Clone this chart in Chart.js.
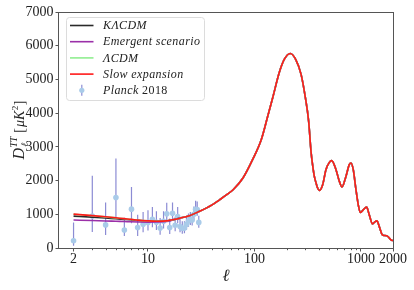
<!DOCTYPE html>
<html><head><meta charset="utf-8">
<script src="https://cdn.jsdelivr.net/npm/chart.js@4.4.0/dist/chart.umd.min.js"></script>
<style>html,body{margin:0;padding:0;background:#fff}canvas{display:block}</style>
</head><body>
<canvas id="c" width="414" height="290"></canvas>
<script>
// ---- data ----
const lowEll = [2, 3, 4, 5, 6, 7, 8, 10, 12, 15];
const kLCDMLow = [945, 915, 890, 866, 850, 836, 820, 800, 792, 803];
const emergentLow = [830, 815, 803, 793, 785, 778, 773, 768, 770, 785];
const lcdmLow = [1000, 957, 922, 893, 868, 849, 827, 804, 795, 805];
const slowLow = [1005, 960, 925, 895, 870, 850, 828, 805, 795, 805];

const highEll = [18, 20, 24, 30, 40, 47, 55, 63, 78, 96, 116, 133, 149, 171, 191, 217, 245, 274, 301, 323, 340, 352, 365, 379, 392, 406, 437, 469, 505, 531, 583, 627, 663, 723, 777, 806, 847, 898, 944, 986, 1051, 1130, 1197, 1286, 1350, 1413, 1486, 1592, 1650, 1740, 1820, 1915, 2000];
const highD = [850, 885, 950, 1080, 1280, 1430, 1580, 1728, 2076, 2620, 3217, 3900, 4480, 5204, 5600, 5770, 5580, 5150, 4450, 3750, 2850, 2450, 2124, 1927, 1778, 1707, 1877, 2323, 2541, 2592, 2323, 1976, 1808, 2124, 2472, 2523, 2323, 1728, 1281, 1052, 1132, 1212, 983, 715, 775, 804, 635, 387, 372, 366, 320, 238, 220];

const planckEll = [2, 3, 4, 5, 6, 7, 8, 9, 10, 11, 12, 13, 14, 15, 16, 17, 18, 19, 20, 21, 22, 23, 24, 25, 26, 27, 28, 29, 30];
const planckD = [217, 950, 685, 1499, 536, 1152, 606, 705, 760, 854, 762, 590, 790, 1013, 606, 1032, 675, 933, 635, 586, 590, 705, 800, 850, 830, 1000, 1150, 1140, 760];
const planckUp = [537, 1195, 665, 1152, 358, 655, 380, 360, 360, 364, 330, 300, 300, 330, 270, 320, 250, 280, 230, 210, 200, 210, 220, 220, 210, 230, 250, 240, 200];
const planckDown = [147, 473, 298, 630, 179, 417, 250, 240, 240, 240, 230, 200, 210, 230, 190, 220, 180, 200, 170, 160, 150, 160, 170, 170, 160, 180, 190, 180, 160];

const xTickValues = [2, 10, 100, 1000, 2000];
const xTickLabels = ['2', '10', '100', '1000', '2000'];
const xMinorTicks = [3, 4, 5, 6, 7, 8, 9, 20, 30, 40, 50, 60, 70, 80, 90, 200, 300, 400, 500, 600, 700, 800, 900];
const legendLabels = ['KΛCDM', 'Emergent scenario', 'ΛCDM', 'Slow expansion'];

// ---- build datasets ----
function series(low) {
  return lowEll.map((x, i) => ({x, y: low[i]})).concat(highEll.map((x, i) => ({x, y: highD[i]})));
}
const lineColors = ['#2a2a2a', '#9b30a8', '#90ee90', '#ff1a1a'];
const lows = [kLCDMLow, emergentLow, lcdmLow, slowLow];
const datasets = lows.map((low, i) => ({
  label: legendLabels[i], data: series(low), borderColor: lineColors[i], borderWidth: 1.6,
  pointRadius: 0, fill: false, cubicInterpolationMode: 'monotone', order: 4 - i
}));
datasets.push({
  type: 'scatter', label: 'Planck 2018', data: planckEll.map((x, i) => ({x, y: planckD[i]})),
  pointRadius: 2.8, pointBackgroundColor: '#a9cbe9', pointBorderWidth: 0, borderColor: '#a9cbe9',
  showLine: false, order: 10
});

const FRAME = '#555';
const SERIF = '"Liberation Serif", "DejaVu Serif", serif';

const errorBars = {
  id: 'errorBars',
  beforeDatasetsDraw(chart) {
    const {ctx, scales: {x, y}} = chart;
    ctx.save();
    ctx.strokeStyle = 'rgba(120,120,205,0.85)';
    ctx.lineWidth = 1.2;
    ctx.beginPath();
    planckEll.forEach((l, i) => {
      const px = x.getPixelForValue(l);
      ctx.moveTo(px, y.getPixelForValue(planckD[i] + planckUp[i]));
      ctx.lineTo(px, y.getPixelForValue(Math.max(0, planckD[i] - planckDown[i])));
    });
    ctx.stroke();
    ctx.restore();
  }
};

const decor = {
  id: 'decor',
  afterDraw(chart) {
    const {ctx, chartArea: a, scales: {x}} = chart;
    ctx.save();
    // frame
    ctx.strokeStyle = FRAME; ctx.lineWidth = 1;
    ctx.strokeRect(Math.round(a.left) - 0.5, Math.round(a.top) + 0.5, Math.round(a.right - a.left) + 1, Math.round(a.bottom - a.top));
    // minor ticks
    ctx.beginPath();
    xMinorTicks.forEach(v => {
      const px = Math.round(x.getPixelForValue(v)) + 0.5;
      ctx.moveTo(px, a.bottom); ctx.lineTo(px, a.bottom + 2.2);
    });
    ctx.stroke();

    // x title
    ctx.fillStyle = '#222';
    ctx.font = 'italic 17px ' + SERIF;
    ctx.textAlign = 'center'; ctx.textBaseline = 'alphabetic';
    ctx.fillText('ℓ', (a.left + a.right) / 2, 281);

    // y title
    ctx.save();
    ctx.translate(24, (a.top + a.bottom) / 2);
    ctx.rotate(-Math.PI / 2);
    ctx.textAlign = 'left';
    const parts = [
      {t: 'D', f: 'italic 16px ' + SERIF, dy: 0, gap: 0.5},
      {t: 'TT', f: 'italic 9.5px ' + SERIF, dy: -7.5, stack: 'ℓ', gap: 1},
      {t: '[', f: '14px ' + SERIF, dy: 0, gap: 1},
      {t: 'μK', f: 'italic 14px ' + SERIF, dy: 0, gap: 0.5},
      {t: '2', f: '9px ' + SERIF, dy: -6.5, gap: 0.5},
      {t: ']', f: '14px ' + SERIF, dy: 0, gap: 0}
    ];
    let total = 0;
    parts.forEach(p => { ctx.font = p.f; p.w = ctx.measureText(p.t).width + p.gap; total += p.w; });
    total += 3;
    let cx = -total / 2;
    parts.forEach((p, i) => {
      ctx.font = p.f;
      ctx.fillText(p.t, cx, p.dy);
      if (p.stack) { ctx.font = 'italic 10px ' + SERIF; ctx.fillText(p.stack, cx + 0.5, 3.5); }
      cx += p.w + (i === 1 ? 3 : 0);
    });
    ctx.restore();

    // legend
    const lx = 66.5, ly = 17.5, lw = 138, lh = 83;
    ctx.beginPath();
    ctx.roundRect(lx, ly, lw, lh, 3);
    ctx.fillStyle = 'rgba(255,255,255,0.85)'; ctx.fill();
    ctx.strokeStyle = '#dcdcdc'; ctx.lineWidth = 1; ctx.stroke();
    const rowY = [25.5, 41.7, 57.9, 74.1, 90.3];
    ctx.textAlign = 'left'; ctx.textBaseline = 'middle';
    if ('letterSpacing' in ctx) ctx.letterSpacing = '0.4px';
    legendLabels.forEach((lab, i) => {
      ctx.strokeStyle = lineColors[i]; ctx.lineWidth = 1.6;
      ctx.beginPath(); ctx.moveTo(70, rowY[i]); ctx.lineTo(93.5, rowY[i]); ctx.stroke();
      ctx.fillStyle = '#222'; ctx.font = 'italic 12px ' + SERIF;
      ctx.fillText(lab, 103, rowY[i] + 0.5);
    });
    // Planck entry
    ctx.strokeStyle = 'rgba(120,120,205,0.85)'; ctx.lineWidth = 1.2;
    ctx.beginPath(); ctx.moveTo(81.8, rowY[4] - 5.5); ctx.lineTo(81.8, rowY[4] + 5.5); ctx.stroke();
    ctx.fillStyle = '#a9cbe9';
    ctx.beginPath(); ctx.arc(81.8, rowY[4], 2.6, 0, Math.PI * 2); ctx.fill();
    ctx.fillStyle = '#222';
    ctx.font = 'italic 12px ' + SERIF;
    ctx.fillText('Planck', 103, rowY[4] + 0.5);
    const pw = ctx.measureText('Planck ').width;
    ctx.font = '12px ' + SERIF;
    ctx.fillText('2018', 103 + pw, rowY[4] + 0.5);
    ctx.restore();
  }
};

new Chart(document.getElementById('c'), {
  type: 'line',
  data: {datasets},
  options: {
    responsive: false, animation: false, devicePixelRatio: 1,
    layout: {padding: {top: 12, right: 21, left: 0, bottom: 0}},
    plugins: {legend: {display: false}, tooltip: {enabled: false}},
    scales: {
      x: {
        type: 'logarithmic', min: 1.46, max: 2000,
        afterBuildTicks: s => { s.ticks = xTickValues.map(v => ({value: v})); },
        afterFit: s => { s.height = 42; },
        ticks: {callback: (v, i) => xTickLabels[i], autoSkip: false, maxRotation: 0, padding: -1,
          font: {family: SERIF, size: 14}, color: '#222'},
        grid: {display: true, drawOnChartArea: false, drawTicks: true, tickLength: 3.5, color: FRAME},
        border: {display: false}
      },
      y: {
        min: 0, max: 7000,
        afterFit: s => { s.width = 59; },
        ticks: {stepSize: 1000, padding: 2, callback: v => String(v), font: {family: SERIF, size: 14}, color: '#222'},
        grid: {display: true, drawOnChartArea: false, drawTicks: true, tickLength: 3.5, color: FRAME},
        border: {display: false}
      }
    }
  },
  plugins: [errorBars, decor]
});
</script>
</body></html>
